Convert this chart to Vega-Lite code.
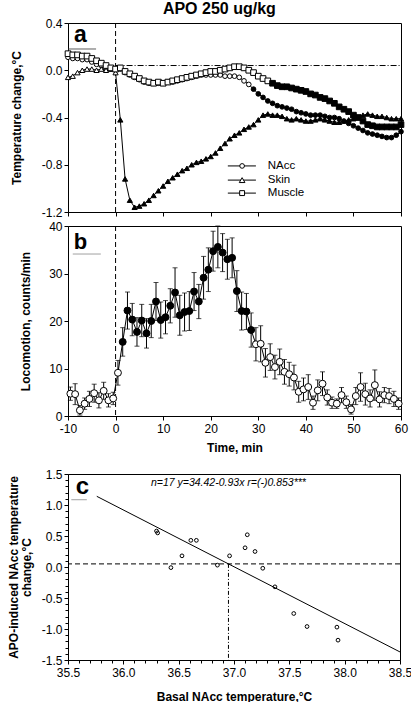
{
  "$schema": "https://vega.github.io/schema/vega-lite/v6.json",
  "padding": {"left": 6, "top": 0, "right": 0, "bottom": 0},
  "title": {"text": "APO 250 ug/kg", "fontSize": 16, "font": "Liberation Sans", "fontWeight": "bold", "color": "black", "offset": 0, "dx": 10, "anchor": "middle"},
  "spacing": 14,
  "bounds": "flush",
  "datasets": {
    "temps": [
      {"time":-10,"series":"NAcc","change":0.11},{"time":-9,"series":"NAcc","change":0.10},{"time":-8,"series":"NAcc","change":0.10},{"time":-7,"series":"NAcc","change":0.09},{"time":-6,"series":"NAcc","change":0.09},{"time":-5,"series":"NAcc","change":0.07},{"time":-4,"series":"NAcc","change":0.05},{"time":-3,"series":"NAcc","change":0.04},{"time":-2,"series":"NAcc","change":0.02},{"time":-1,"series":"NAcc","change":0.01},
      {"time":0,"series":"NAcc","change":0.00},{"time":1,"series":"NAcc","change":0.01},{"time":2,"series":"NAcc","change":-0.02},{"time":3,"series":"NAcc","change":-0.04},{"time":4,"series":"NAcc","change":-0.06},{"time":5,"series":"NAcc","change":-0.08},{"time":6,"series":"NAcc","change":-0.10},{"time":7,"series":"NAcc","change":-0.11},{"time":8,"series":"NAcc","change":-0.11},{"time":9,"series":"NAcc","change":-0.11},
      {"time":10,"series":"NAcc","change":-0.11},{"time":11,"series":"NAcc","change":-0.10},{"time":12,"series":"NAcc","change":-0.10},{"time":13,"series":"NAcc","change":-0.09},{"time":14,"series":"NAcc","change":-0.08},{"time":15,"series":"NAcc","change":-0.07},{"time":16,"series":"NAcc","change":-0.06},{"time":17,"series":"NAcc","change":-0.05},{"time":18,"series":"NAcc","change":-0.04},{"time":19,"series":"NAcc","change":-0.04},
      {"time":20,"series":"NAcc","change":-0.04},{"time":21,"series":"NAcc","change":-0.04},{"time":22,"series":"NAcc","change":-0.04},{"time":23,"series":"NAcc","change":-0.05},{"time":24,"series":"NAcc","change":-0.05},{"time":25,"series":"NAcc","change":-0.05},{"time":26,"series":"NAcc","change":-0.06},{"time":27,"series":"NAcc","change":-0.09},{"time":28,"series":"NAcc","change":-0.12},{"time":29,"series":"NAcc","change":-0.16},
      {"time":30,"series":"NAcc","change":-0.20},{"time":31,"series":"NAcc","change":-0.23},{"time":32,"series":"NAcc","change":-0.26},{"time":33,"series":"NAcc","change":-0.28},{"time":34,"series":"NAcc","change":-0.30},{"time":35,"series":"NAcc","change":-0.31},{"time":36,"series":"NAcc","change":-0.32},{"time":37,"series":"NAcc","change":-0.33},{"time":38,"series":"NAcc","change":-0.35},{"time":39,"series":"NAcc","change":-0.36},
      {"time":40,"series":"NAcc","change":-0.37},{"time":41,"series":"NAcc","change":-0.38},{"time":42,"series":"NAcc","change":-0.38},{"time":43,"series":"NAcc","change":-0.38},{"time":44,"series":"NAcc","change":-0.39},{"time":45,"series":"NAcc","change":-0.40},{"time":46,"series":"NAcc","change":-0.40},{"time":47,"series":"NAcc","change":-0.41},{"time":48,"series":"NAcc","change":-0.43},{"time":49,"series":"NAcc","change":-0.45},
      {"time":50,"series":"NAcc","change":-0.47},{"time":51,"series":"NAcc","change":-0.49},{"time":52,"series":"NAcc","change":-0.51},{"time":53,"series":"NAcc","change":-0.53},{"time":54,"series":"NAcc","change":-0.54},{"time":55,"series":"NAcc","change":-0.55},{"time":56,"series":"NAcc","change":-0.56},{"time":57,"series":"NAcc","change":-0.57},{"time":58,"series":"NAcc","change":-0.57},{"time":59,"series":"NAcc","change":-0.55},
      {"time":60,"series":"NAcc","change":-0.52},
      {"time":-10,"series":"Skin","change":-0.06},{"time":-9,"series":"Skin","change":-0.05},{"time":-8,"series":"Skin","change":-0.02},{"time":-7,"series":"Skin","change":0.00},{"time":-6,"series":"Skin","change":0.01},{"time":-5,"series":"Skin","change":0.01},{"time":-4,"series":"Skin","change":0.00},{"time":-3,"series":"Skin","change":0.01},{"time":-2,"series":"Skin","change":0.00},{"time":-1,"series":"Skin","change":0.01},
      {"time":0,"series":"Skin","change":-0.02},{"time":1,"series":"Skin","change":-0.42},{"time":2,"series":"Skin","change":-0.92},{"time":3,"series":"Skin","change":-1.10},{"time":4,"series":"Skin","change":-1.16},{"time":5,"series":"Skin","change":-1.15},{"time":6,"series":"Skin","change":-1.13},{"time":7,"series":"Skin","change":-1.10},{"time":8,"series":"Skin","change":-1.06},{"time":9,"series":"Skin","change":-1.02},
      {"time":10,"series":"Skin","change":-0.98},{"time":11,"series":"Skin","change":-0.94},{"time":12,"series":"Skin","change":-0.91},{"time":13,"series":"Skin","change":-0.88},{"time":14,"series":"Skin","change":-0.85},{"time":15,"series":"Skin","change":-0.83},{"time":16,"series":"Skin","change":-0.80},{"time":17,"series":"Skin","change":-0.78},{"time":18,"series":"Skin","change":-0.77},{"time":19,"series":"Skin","change":-0.75},
      {"time":20,"series":"Skin","change":-0.73},{"time":21,"series":"Skin","change":-0.70},{"time":22,"series":"Skin","change":-0.66},{"time":23,"series":"Skin","change":-0.62},{"time":24,"series":"Skin","change":-0.58},{"time":25,"series":"Skin","change":-0.55},{"time":26,"series":"Skin","change":-0.53},{"time":27,"series":"Skin","change":-0.50},{"time":28,"series":"Skin","change":-0.48},{"time":29,"series":"Skin","change":-0.46},
      {"time":30,"series":"Skin","change":-0.42},{"time":31,"series":"Skin","change":-0.38},{"time":32,"series":"Skin","change":-0.37},{"time":33,"series":"Skin","change":-0.38},{"time":34,"series":"Skin","change":-0.38},{"time":35,"series":"Skin","change":-0.39},{"time":36,"series":"Skin","change":-0.41},{"time":37,"series":"Skin","change":-0.42},{"time":38,"series":"Skin","change":-0.41},{"time":39,"series":"Skin","change":-0.42},
      {"time":40,"series":"Skin","change":-0.43},{"time":41,"series":"Skin","change":-0.43},{"time":42,"series":"Skin","change":-0.42},{"time":43,"series":"Skin","change":-0.41},{"time":44,"series":"Skin","change":-0.42},{"time":45,"series":"Skin","change":-0.43},{"time":46,"series":"Skin","change":-0.44},{"time":47,"series":"Skin","change":-0.44},{"time":48,"series":"Skin","change":-0.43},{"time":49,"series":"Skin","change":-0.42},
      {"time":50,"series":"Skin","change":-0.41},{"time":51,"series":"Skin","change":-0.40},{"time":52,"series":"Skin","change":-0.38},{"time":53,"series":"Skin","change":-0.37},{"time":54,"series":"Skin","change":-0.38},{"time":55,"series":"Skin","change":-0.39},{"time":56,"series":"Skin","change":-0.39},{"time":57,"series":"Skin","change":-0.40},{"time":58,"series":"Skin","change":-0.41},{"time":59,"series":"Skin","change":-0.41},
      {"time":60,"series":"Skin","change":-0.41},
      {"time":-10,"series":"Muscle","change":0.14},{"time":-9,"series":"Muscle","change":0.13},{"time":-8,"series":"Muscle","change":0.13},{"time":-7,"series":"Muscle","change":0.12},{"time":-6,"series":"Muscle","change":0.12},{"time":-5,"series":"Muscle","change":0.10},{"time":-4,"series":"Muscle","change":0.08},{"time":-3,"series":"Muscle","change":0.06},{"time":-2,"series":"Muscle","change":0.04},{"time":-1,"series":"Muscle","change":0.02},
      {"time":0,"series":"Muscle","change":0.01},{"time":1,"series":"Muscle","change":0.02},{"time":2,"series":"Muscle","change":-0.01},{"time":3,"series":"Muscle","change":-0.03},{"time":4,"series":"Muscle","change":-0.05},{"time":5,"series":"Muscle","change":-0.07},{"time":6,"series":"Muscle","change":-0.09},{"time":7,"series":"Muscle","change":-0.10},{"time":8,"series":"Muscle","change":-0.11},{"time":9,"series":"Muscle","change":-0.10},
      {"time":10,"series":"Muscle","change":-0.11},{"time":11,"series":"Muscle","change":-0.10},{"time":12,"series":"Muscle","change":-0.09},{"time":13,"series":"Muscle","change":-0.08},{"time":14,"series":"Muscle","change":-0.07},{"time":15,"series":"Muscle","change":-0.06},{"time":16,"series":"Muscle","change":-0.05},{"time":17,"series":"Muscle","change":-0.04},{"time":18,"series":"Muscle","change":-0.03},{"time":19,"series":"Muscle","change":-0.02},
      {"time":20,"series":"Muscle","change":-0.01},{"time":21,"series":"Muscle","change":-0.01},{"time":22,"series":"Muscle","change":0.00},{"time":23,"series":"Muscle","change":0.01},{"time":24,"series":"Muscle","change":0.02},{"time":25,"series":"Muscle","change":0.03},{"time":26,"series":"Muscle","change":0.03},{"time":27,"series":"Muscle","change":0.02},{"time":28,"series":"Muscle","change":0.00},{"time":29,"series":"Muscle","change":-0.02},
      {"time":30,"series":"Muscle","change":-0.05},{"time":31,"series":"Muscle","change":-0.07},{"time":32,"series":"Muscle","change":-0.09},{"time":33,"series":"Muscle","change":-0.11},{"time":34,"series":"Muscle","change":-0.13},{"time":35,"series":"Muscle","change":-0.14},{"time":36,"series":"Muscle","change":-0.14},{"time":37,"series":"Muscle","change":-0.15},{"time":38,"series":"Muscle","change":-0.16},{"time":39,"series":"Muscle","change":-0.17},
      {"time":40,"series":"Muscle","change":-0.18},{"time":41,"series":"Muscle","change":-0.20},{"time":42,"series":"Muscle","change":-0.21},{"time":43,"series":"Muscle","change":-0.23},{"time":44,"series":"Muscle","change":-0.24},{"time":45,"series":"Muscle","change":-0.26},{"time":46,"series":"Muscle","change":-0.28},{"time":47,"series":"Muscle","change":-0.31},{"time":48,"series":"Muscle","change":-0.33},{"time":49,"series":"Muscle","change":-0.35},
      {"time":50,"series":"Muscle","change":-0.38},{"time":51,"series":"Muscle","change":-0.40},{"time":52,"series":"Muscle","change":-0.43},{"time":53,"series":"Muscle","change":-0.46},{"time":54,"series":"Muscle","change":-0.47},{"time":55,"series":"Muscle","change":-0.48},{"time":56,"series":"Muscle","change":-0.48},{"time":57,"series":"Muscle","change":-0.48},{"time":58,"series":"Muscle","change":-0.48},{"time":59,"series":"Muscle","change":-0.48},
      {"time":60,"series":"Muscle","change":-0.46}
    ],
    "loco": [
      {"time":-9.5,"counts":4.7,"sem":1.4},{"time":-8.5,"counts":4.6,"sem":2.2},{"time":-7.5,"counts":1.2,"sem":1.0},{"time":-6.5,"counts":2.6,"sem":1.2},{"time":-5.5,"counts":3.6,"sem":1.6},{"time":-4.5,"counts":4.8,"sem":1.9},{"time":-3.5,"counts":3.3,"sem":1.6},{"time":-2.5,"counts":5.3,"sem":1.8},{"time":-1.5,"counts":3.3,"sem":1.4},{"time":-0.5,"counts":3.7,"sem":1.3},
      {"time":0.5,"counts":9.1,"sem":2.6},{"time":1.5,"counts":15.6,"sem":3.0},{"time":2.5,"counts":22.2,"sem":3.9},{"time":3.5,"counts":20.3,"sem":3.4},{"time":4.5,"counts":17.7,"sem":3.0},{"time":5.5,"counts":20.1,"sem":3.4},{"time":6.5,"counts":17.4,"sem":3.1},{"time":7.5,"counts":20.0,"sem":3.5},{"time":8.5,"counts":24.1,"sem":4.0},{"time":9.5,"counts":20.2,"sem":3.8},
      {"time":10.5,"counts":20.8,"sem":3.5},{"time":11.5,"counts":23.2,"sem":3.6},{"time":12.5,"counts":26.0,"sem":5.2},{"time":13.5,"counts":21.2,"sem":4.2},{"time":14.5,"counts":21.9,"sem":4.0},{"time":15.5,"counts":22.1,"sem":4.1},{"time":16.5,"counts":26.2,"sem":4.0},{"time":17.5,"counts":24.1,"sem":3.6},{"time":18.5,"counts":29.1,"sem":4.5},{"time":19.5,"counts":30.8,"sem":4.6},
      {"time":20.5,"counts":34.7,"sem":4.2},{"time":21.5,"counts":35.6,"sem":4.4},{"time":22.5,"counts":34.4,"sem":4.0},{"time":23.5,"counts":33.0,"sem":4.2},{"time":24.5,"counts":33.3,"sem":4.2},{"time":25.5,"counts":26.3,"sem":4.3},{"time":26.5,"counts":22.1,"sem":4.0},{"time":27.5,"counts":22.0,"sem":3.8},{"time":28.5,"counts":18.1,"sem":3.6},{"time":29.5,"counts":15.1,"sem":3.5},
      {"time":30.5,"counts":15.2,"sem":3.8},{"time":31.5,"counts":11.2,"sem":3.0},{"time":32.5,"counts":12.4,"sem":2.8},{"time":33.5,"counts":10.3,"sem":2.5},{"time":34.5,"counts":11.4,"sem":2.7},{"time":35.5,"counts":9.3,"sem":2.6},{"time":36.5,"counts":8.8,"sem":2.5},{"time":37.5,"counts":8.1,"sem":2.6},{"time":38.5,"counts":5.1,"sem":2.2},{"time":39.5,"counts":5.6,"sem":2.4},
      {"time":40.5,"counts":6.1,"sem":2.6},{"time":41.5,"counts":2.8,"sem":1.4},{"time":42.5,"counts":5.4,"sem":2.2},{"time":43.5,"counts":6.8,"sem":2.5},{"time":44.5,"counts":3.9,"sem":1.6},{"time":45.5,"counts":2.8,"sem":1.2},{"time":46.5,"counts":2.6,"sem":1.0},{"time":47.5,"counts":4.4,"sem":1.6},{"time":48.5,"counts":2.9,"sem":1.3},{"time":49.5,"counts":1.4,"sem":1.0},
      {"time":50.5,"counts":4.2,"sem":1.8},{"time":51.5,"counts":6.1,"sem":3.0},{"time":52.5,"counts":4.6,"sem":2.3},{"time":53.5,"counts":3.7,"sem":1.8},{"time":54.5,"counts":6.5,"sem":3.2},{"time":55.5,"counts":3.5,"sem":1.6},{"time":56.5,"counts":4.4,"sem":1.6},{"time":57.5,"counts":4.2,"sem":1.6},{"time":58.5,"counts":3.6,"sem":1.6},{"time":59.5,"counts":2.6,"sem":1.2}
    ],
    "scatter": [
      {"basal":36.30,"change":0.58},{"basal":36.31,"change":0.55},{"basal":36.43,"change":-0.01},{"basal":36.53,"change":0.18},{"basal":36.61,"change":0.43},{"basal":36.66,"change":0.43},{"basal":36.85,"change":0.03},{"basal":36.96,"change":0.18},{"basal":37.10,"change":0.31},{"basal":37.12,"change":0.52},{"basal":37.19,"change":0.25},{"basal":37.26,"change":-0.02},{"basal":37.37,"change":-0.32},{"basal":37.54,"change":-0.75},{"basal":37.66,"change":-0.96},{"basal":37.93,"change":-0.97},{"basal":37.94,"change":-1.18}
    ]
  },
  "vconcat": [
    {
      "width": 333, "height": 189,
      "layer": [
        {
          "data": {"values": [{}]},
          "mark": {"type": "rule", "strokeDash": [5, 3], "color": "black", "strokeWidth": 1},
          "encoding": {"x": {"datum": 0, "type": "quantitative", "scale": {"domain": [-10, 60], "nice": false, "zero": false}}}
        },
        {
          "data": {"values": [{}]},
          "mark": {"type": "rule", "strokeDash": [6, 2, 1, 2], "color": "black", "strokeWidth": 1},
          "encoding": {"x": {"datum": 0, "type": "quantitative"}, "x2": {"datum": 60}, "y": {"datum": 0.04, "type": "quantitative"}}
        },
        {
          "data": {"values": [{}]},
          "mark": {"type": "rule", "color": "#333333", "strokeWidth": 0.8},
          "encoding": {"x": {"datum": -10, "type": "quantitative"}, "x2": {"datum": -4.1}, "y": {"datum": 0.18, "type": "quantitative"}}
        },
        {
          "data": {"name": "temps"},
          "mark": {"type": "line", "color": "black", "strokeWidth": 1},
          "encoding": {
            "x": {"field": "time", "type": "quantitative"},
            "y": {"field": "change", "type": "quantitative"},
            "detail": {"field": "series"}
          }
        },
        {
          "data": {"name": "temps"},
          "mark": {"type": "point", "filled": true, "stroke": "black", "strokeWidth": 1, "opacity": 1},
          "encoding": {
            "x": {"field": "time", "type": "quantitative",
                  "axis": {"values": [-10,-5,0,5,10,15,20,25,30,35,40,45,50,55,60], "labels": false, "title": null}},
            "y": {"field": "change", "type": "quantitative",
                  "scale": {"domain": [-1.2, 0.4], "nice": false, "zero": false},
                  "axis": {"values": [-1.2,-1.0,-0.8,-0.6,-0.4,-0.2,0,0.2,0.4],
                           "labelExpr": "abs(datum.value*2.5 - round(datum.value*2.5)) < 0.001 ? replace(format(datum.value,'.1f'),'−','-') : ''",
                           "title": "Temperature  change,°C", "titlePadding": 0, "titleX": -45, "labelPadding": 2, "tickSize": 4, "offset": 0, "minExtent": 36, "maxExtent": 36}},
            "shape": {"field": "series", "type": "nominal", "scale": {"domain": ["NAcc","Skin","Muscle"], "range": ["circle","triangle-up","square"]}, "legend": null},
            "size": {"field": "series", "type": "nominal", "scale": {"domain": ["NAcc","Skin","Muscle"], "range": [22, 32, 24]}, "legend": null},
            "fill": {"condition": {"test": "(datum.series=='Skin' && datum.time>=1) || (datum.series=='NAcc' && datum.time>=29) || (datum.series=='Muscle' && datum.time>=33)", "value": "black"}, "value": "white"}
          }
        },
        {"data": {"values": [{}]}, "mark": {"type": "rule", "color": "black", "strokeWidth": 1}, "encoding": {"x": {"datum": 23.6, "type": "quantitative"}, "x2": {"datum": 29.5}, "y": {"datum": -0.81, "type": "quantitative"}}},
        {"data": {"values": [{}]}, "mark": {"type": "rule", "color": "black", "strokeWidth": 1}, "encoding": {"x": {"datum": 23.6, "type": "quantitative"}, "x2": {"datum": 29.5}, "y": {"datum": -0.93, "type": "quantitative"}}},
        {"data": {"values": [{}]}, "mark": {"type": "rule", "color": "black", "strokeWidth": 1}, "encoding": {"x": {"datum": 23.6, "type": "quantitative"}, "x2": {"datum": 29.5}, "y": {"datum": -1.04, "type": "quantitative"}}},
        {"data": {"values": [{}]}, "mark": {"type": "point", "shape": "circle", "size": 22, "filled": true, "fill": "white", "stroke": "black", "strokeWidth": 1, "opacity": 1}, "encoding": {"x": {"datum": 26.6, "type": "quantitative"}, "y": {"datum": -0.81, "type": "quantitative"}}},
        {"data": {"values": [{}]}, "mark": {"type": "point", "shape": "triangle-up", "size": 32, "filled": true, "fill": "white", "stroke": "black", "strokeWidth": 1, "opacity": 1}, "encoding": {"x": {"datum": 26.6, "type": "quantitative"}, "y": {"datum": -0.93, "type": "quantitative"}}},
        {"data": {"values": [{}]}, "mark": {"type": "point", "shape": "square", "size": 24, "filled": true, "fill": "white", "stroke": "black", "strokeWidth": 1, "opacity": 1}, "encoding": {"x": {"datum": 26.6, "type": "quantitative"}, "y": {"datum": -1.04, "type": "quantitative"}}},
        {"data": {"values": [{}]}, "mark": {"type": "text", "text": "NAcc", "fontSize": 11.5, "font": "Liberation Sans", "align": "left", "baseline": "middle", "color": "black"}, "encoding": {"x": {"datum": 32.0, "type": "quantitative"}, "y": {"datum": -0.81, "type": "quantitative"}}},
        {"data": {"values": [{}]}, "mark": {"type": "text", "text": "Skin", "fontSize": 11.5, "font": "Liberation Sans", "align": "left", "baseline": "middle", "color": "black"}, "encoding": {"x": {"datum": 32.0, "type": "quantitative"}, "y": {"datum": -0.93, "type": "quantitative"}}},
        {"data": {"values": [{}]}, "mark": {"type": "text", "text": "Muscle", "fontSize": 11.5, "font": "Liberation Sans", "align": "left", "baseline": "middle", "color": "black"}, "encoding": {"x": {"datum": 32.0, "type": "quantitative"}, "y": {"datum": -1.04, "type": "quantitative"}}},
        {
          "data": {"values": [{}]},
          "mark": {"type": "text", "text": "a", "fontSize": 23, "fontWeight": "bold", "font": "Liberation Sans", "align": "center", "baseline": "alphabetic", "color": "black"},
          "encoding": {"x": {"datum": -7.4, "type": "quantitative"}, "y": {"datum": 0.236, "type": "quantitative"}}
        }
      ]
    },
    {
      "spacing": 58,
      "bounds": "flush",
      "vconcat": [
        {
          "width": 333, "height": 190,
          "layer": [
            {
              "data": {"values": [{}]},
              "mark": {"type": "rule", "strokeDash": [5, 3], "color": "black", "strokeWidth": 1},
              "encoding": {"x": {"datum": 0, "type": "quantitative", "scale": {"domain": [-10, 60], "nice": false, "zero": false}}}
            },
            {
              "data": {"values": [{}]},
              "mark": {"type": "rule", "color": "#888888", "strokeWidth": 0.8},
              "encoding": {"x": {"datum": -9.0, "type": "quantitative"}, "x2": {"datum": -3.1}, "y": {"datum": 34.1, "type": "quantitative"}}
            },
            {
              "data": {"name": "loco"},
              "mark": {"type": "errorbar", "ticks": {"size": 5, "thickness": 1, "color": "black"}, "rule": {"strokeWidth": 1, "color": "black"}, "color": "black"},
              "encoding": {
                "x": {"field": "time", "type": "quantitative"},
                "y": {"field": "counts", "type": "quantitative", "title": "Locomotion,  counts/min"},
                "yError": {"field": "sem"}
              }
            },
            {
              "data": {"name": "loco"},
              "mark": {"type": "line", "color": "black", "strokeWidth": 1},
              "encoding": {
                "x": {"field": "time", "type": "quantitative"},
                "y": {"field": "counts", "type": "quantitative", "title": "Locomotion,  counts/min"}
              }
            },
            {
              "data": {"name": "loco"},
              "mark": {"type": "point", "filled": true, "stroke": "black", "strokeWidth": 1, "size": 48, "opacity": 1},
              "encoding": {
                "x": {"field": "time", "type": "quantitative", "title": "Time,  min",
                      "axis": {"values": [-10,-5,0,5,10,15,20,25,30,35,40,45,50,55,60],
                               "labelExpr": "datum.value % 10 == 0 ? replace(format(datum.value,'d'),'−','-') : ''",
                               "labelFlush": false, "labelPadding": 3, "titlePadding": 8}},
                "y": {"field": "counts", "type": "quantitative", "title": "Locomotion,  counts/min",
                      "scale": {"domain": [0, 40], "nice": false},
                      "axis": {"values": [0,5,10,15,20,25,30,35,40],
                               "labelExpr": "datum.value % 10 == 0 ? format(datum.value,'d') : ''",
                               "titlePadding": 0, "minExtent": 36, "maxExtent": 36}},
                "fill": {"condition": {"test": "datum.time > 1 && datum.time < 29", "value": "black"}, "value": "white"}
              }
            },
            {
              "data": {"values": [{}]},
              "mark": {"type": "text", "text": "b", "fontSize": 22, "fontWeight": "bold", "font": "Liberation Sans", "align": "center", "baseline": "alphabetic", "color": "black"},
              "encoding": {"x": {"datum": -7.4, "type": "quantitative"}, "y": {"datum": 35.2, "type": "quantitative"}}
            }
          ]
        },
        {
          "width": 332, "height": 186,
          "resolve": {"axis": {"x": "independent", "y": "independent"}},
          "layer": [
            {
              "data": {"values": [{}]},
              "mark": {"type": "rule", "strokeDash": [5, 3], "color": "black", "strokeWidth": 1},
              "encoding": {"y": {"datum": 0.05, "type": "quantitative", "scale": {"domain": [-1.5, 1.5], "nice": false, "zero": false}, "axis": null}}
            },
            {
              "data": {"values": [{}]},
              "mark": {"type": "rule", "strokeDash": [4, 2, 1, 2], "color": "black", "strokeWidth": 1},
              "encoding": {"x": {"datum": 36.95, "type": "quantitative", "scale": {"domain": [35.5, 38.5], "nice": false, "zero": false}, "axis": null}, "y": {"datum": 0.05, "type": "quantitative", "axis": null}, "y2": {"datum": -1.5}}
            },
            {
              "data": {"values": [{}]},
              "mark": {"type": "rule", "color": "black", "strokeWidth": 1},
              "encoding": {"x": {"datum": 35.76, "type": "quantitative", "axis": null}, "y": {"datum": 1.14, "type": "quantitative", "axis": null}, "x2": {"datum": 38.5}, "y2": {"datum": -1.37}}
            },
            {
              "data": {"values": [{}]},
              "mark": {"type": "rule", "color": "#888888", "strokeWidth": 0.8},
              "encoding": {"x": {"datum": 35.53, "type": "quantitative", "axis": null}, "x2": {"datum": 35.67}, "y": {"datum": 1.085, "type": "quantitative", "axis": null}}
            },
            {
              "data": {"values": [{}]},
              "mark": {"type": "point", "opacity": 0},
              "encoding": {
                "x": {"datum": 36.0, "type": "quantitative",
                      "axis": {"orient": "bottom", "values": [35.6,35.7,35.8,35.9,36.1,36.2,36.3,36.4,36.6,36.7,36.8,36.9,37.1,37.2,37.3,37.4,37.6,37.7,37.8,37.9,38.1,38.2,38.3,38.4],
                               "labels": false, "domain": false, "title": null, "tickSize": 3}},
                "y": {"datum": 0, "type": "quantitative",
                      "axis": {"orient": "left", "values": [-1.4,-1.3,-1.2,-1.1,-0.9,-0.8,-0.7,-0.6,-0.4,-0.3,-0.2,-0.1,0.1,0.2,0.3,0.4,0.6,0.7,0.8,0.9,1.1,1.2,1.3,1.4],
                               "labels": false, "domain": false, "title": null, "tickSize": 3}}
              }
            },
            {
              "data": {"name": "scatter"},
              "mark": {"type": "point", "filled": false, "stroke": "black", "strokeWidth": 1, "size": 14, "opacity": 1},
              "encoding": {
                "x": {"field": "basal", "type": "quantitative",
                      "axis": {"orient": "bottom", "values": [35.5,36.0,36.5,37.0,37.5,38.0,38.5], "format": ".1f",
                               "labelFlush": false, "labelPadding": 3, "title": "Basal  NAcc  temperature,°C", "titlePadding": 13}},
                "y": {"field": "change", "type": "quantitative",
                      "axis": {"orient": "left", "values": [-1.5,-1.0,-0.5,0,0.5,1.0,1.5],
                               "labelExpr": "replace(format(datum.value,'.1f'),'−','-')",
                               "title": ["APO-induced  NAcc  temperature", "change,°C"], "titlePadding": -1, "titleLineHeight": 13, "minExtent": 36, "maxExtent": 36}}
              }
            },
            {
              "data": {"values": [{}]},
              "mark": {"type": "text", "text": "c", "fontSize": 24, "fontWeight": "bold", "font": "Liberation Sans", "align": "center", "baseline": "alphabetic", "color": "black"},
              "encoding": {"x": {"datum": 35.63, "type": "quantitative", "axis": null}, "y": {"datum": 1.18, "type": "quantitative", "axis": null}}
            },
            {
              "data": {"values": [{}]},
              "mark": {"type": "text", "text": "n=17  y=34.42-0.93x  r=(-)0.853***", "fontSize": 10.5, "fontStyle": "italic", "font": "Liberation Sans", "align": "center", "baseline": "alphabetic", "color": "black"},
              "encoding": {"x": {"datum": 36.95, "type": "quantitative", "axis": null}, "y": {"datum": 1.31, "type": "quantitative", "axis": null}}
            }
          ]
        }
      ]
    }
  ],
  "config": {
    "font": "Liberation Sans",
    "view": {"stroke": "black", "strokeWidth": 1},
    "axis": {"grid": false, "labelFont": "Liberation Sans", "labelFontSize": 12, "labelColor": "black",
             "titleFont": "Liberation Sans", "titleFontSize": 12, "titleFontWeight": "bold", "titleColor": "black",
             "tickColor": "black", "domainColor": "black", "tickSize": 4, "labelPadding": 2, "labelOverlap": false}
  }
}
